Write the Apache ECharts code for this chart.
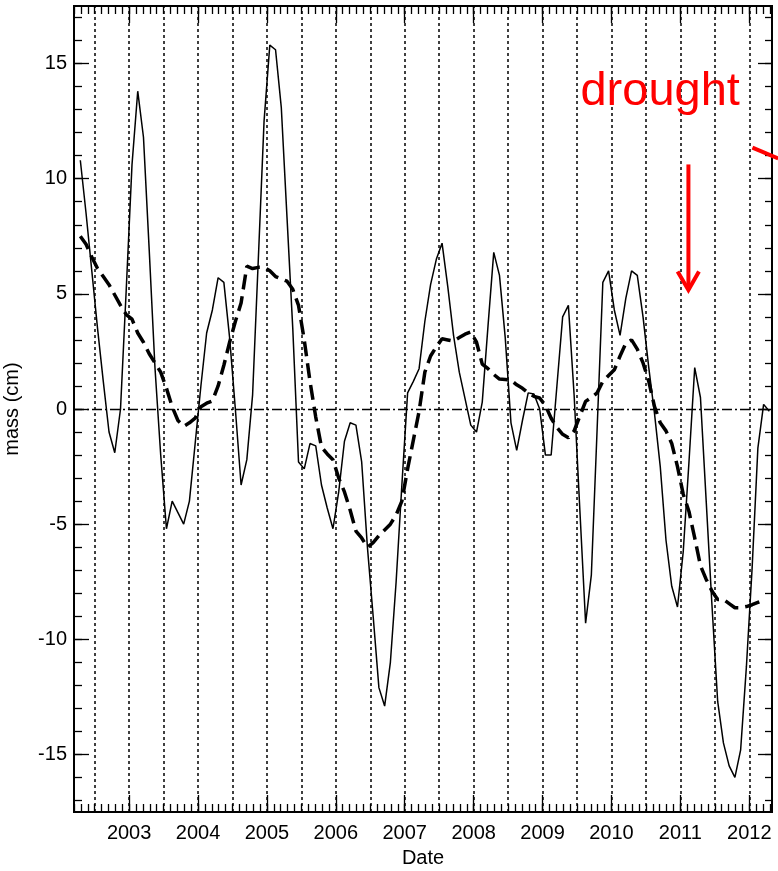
<!DOCTYPE html>
<html>
<head>
<meta charset="utf-8">
<script src="https://cdn.jsdelivr.net/npm/echarts@6/dist/echarts.min.js"></script>
<style>
  html, body { margin: 0; padding: 0; background: #fff; }
  #chart { width: 778px; height: 871px; }
</style>
</head>
<body>
<div id="chart"></div>
<script>
// Monthly series start (year, month); one value per month from here on
const firstYear = 2002;
const firstMonth = 4;

// Monthly water-mass anomaly (cm)
const monthlyMass = [
  10.8, 8.5, 6.0, 3.5, 1.2, -1.0, -1.9, 0.0, 5.2,
  10.6, 13.8, 11.8, 6.9, 1.8, -2.0, -5.2, -4.0, -4.5, -5.0, -4.0, -1.5,
  1.0, 3.3, 4.3, 5.7, 5.5, 3.1, 0.0, -3.3, -2.2, 0.6, 6.5, 12.5,
  15.8, 15.6, 13.1, 8.3, 3.5, -2.3, -2.6, -1.5, -1.6, -3.3, -4.3, -5.2,
  -3.6, -1.4, -0.6, -0.7, -2.3, -6.0, -9.0, -12.1, -12.9, -11.0, -7.5, -3.3,
  0.7, 1.2, 1.75, 3.8, 5.4, 6.5, 7.2, 5.3, 3.2, 1.6, 0.45, -0.7,
  -1.0, 0.3, 3.6, 6.8, 5.8, 3.1, -0.6, -1.8, -0.5, 0.7, 0.65, 0.0,
  -2.0, -2.0, 1.0, 4.0, 4.5, 0.6, -4.4, -9.3, -7.2, -0.9, 5.5, 6.0,
  4.3, 3.2, 4.8, 6.0, 5.8, 4.0, 1.8, -0.2, -2.5, -5.7, -7.7, -8.6,
  -6.2, -2.3, 1.8, 0.5, -4.0, -8.5, -12.7, -14.5, -15.5, -16.0, -14.8, -11.2,
  -6.9, -1.7, 0.2, -0.1
];

// Smoothed (de-seasoned) mass anomaly (cm)
const smoothedMass = [
  7.5, 7.15, 6.6, 6.1, 5.75, 5.4, 4.95, 4.5, 4.1,
  3.9, 3.3, 2.9, 2.4, 2.0, 1.6, 0.9, 0.1, -0.5, -0.75, -0.6, -0.4,
  0.1, 0.25, 0.35, 1.0, 1.9, 2.9, 3.8, 4.6, 6.2, 6.1, 6.15, 6.15,
  6.0, 5.75, 5.65, 5.55, 5.2, 4.5, 3.0, 1.2, -0.35, -1.65, -1.95, -2.2,
  -3.0, -3.6, -4.4, -5.3, -5.6, -6.0, -5.8, -5.5, -5.25, -5.0, -4.6, -4.0,
  -2.6, -1.35, -0.1, 1.6, 2.3, 2.7, 3.05, 3.0, 2.95, 3.1, 3.25, 3.35,
  2.9, 1.95, 1.75, 1.5, 1.3, 1.28, 1.25, 1.05, 0.9, 0.7, 0.55, 0.48,
  0.15, -0.4, -0.8, -1.1, -1.25, -0.95, -0.3, 0.33, 0.5, 0.7, 1.2, 1.45,
  1.7, 2.3, 2.85, 3.0, 2.6, 2.0, 1.2, 0.1, -0.6, -0.95, -1.5, -2.5,
  -3.7, -4.45, -5.6, -6.8, -7.4, -7.9, -8.27, -8.27, -8.45, -8.63, -8.63, -8.58,
  -8.5, -8.4, -8.3
];

// Axis ticks and labels
const yearTicks = [2003, 2004, 2005, 2006, 2007, 2008, 2009, 2010, 2011, 2012];
const halfYearLines = [2002.5, 2003, 2003.5, 2004, 2004.5, 2005, 2005.5, 2006, 2006.5,
  2007, 2007.5, 2008, 2008.5, 2009, 2009.5, 2010, 2010.5, 2011, 2011.5, 2012];
const massTicks = [-15, -10, -5, 0, 5, 10, 15];

const xMin = 2002.2, xMax = 2012.33;
const yMin = -17.5, yMax = 17.5;

// Annotation text and anchor positions (data units)
const annotationText = 'drought';
const annotationAnchor = [2009.55, 13.06];
const arrowTop = [2011.117, 10.62];
const arrowTip = [2011.117, 5.17];
const arrowWingLeft = [2010.96, 5.97];
const arrowWingRight = [2011.27, 5.97];
const sideArrowStart = [2012.046, 11.35];
const sideArrowEnd = [2012.42, 10.88];

function decimalYear(i) {
  const m = firstMonth - 1 + i;
  return firstYear + Math.floor(m / 12) + ((m % 12) + 0.5) / 12;
}
const solidData = monthlyMass.map((v, i) => [decimalYear(i), v]);
const dashedData = smoothedMass.map((v, i) => [decimalYear(i), v]);

const minorYearTicks = [];
for (let k = Math.ceil(xMin * 10); k <= Math.floor(xMax * 10); k++) minorYearTicks.push(k / 10);
const minorMassTicks = [];
for (let k = Math.ceil(yMin); k <= Math.floor(yMax); k++) minorMassTicks.push(k);

const FONT = '"Liberation Sans", Arial, Helvetica, sans-serif';
const black = '#000000';

function xAxisDef(position, ticks, len, withLabel) {
  const ax = {
    type: 'value', position: position, min: xMin, max: xMax,
    axisLine: { show: false, onZero: false },
    splitLine: { show: false },
    axisTick: { show: true, inside: true, length: len, customValues: ticks,
      lineStyle: { color: black, width: 1.3 } },
    axisLabel: { show: false }
  };
  if (withLabel) {
    ax.axisLabel = { show: true, customValues: yearTicks, formatter: v => String(Math.round(v)),
      margin: 11, color: black, fontSize: 20, fontFamily: FONT };
    ax.name = 'Date';
    ax.nameLocation = 'middle';
    ax.nameGap = 36;
    ax.nameTextStyle = { color: black, fontSize: 20, fontFamily: FONT };
  }
  return ax;
}
function yAxisDef(position, ticks, len, withLabel) {
  const ax = {
    type: 'value', position: position, min: yMin, max: yMax,
    axisLine: { show: false, onZero: false },
    splitLine: { show: false },
    axisTick: { show: true, inside: true, length: len, customValues: ticks,
      lineStyle: { color: black, width: 1.3 } },
    axisLabel: { show: false }
  };
  if (withLabel) {
    ax.axisLabel = { show: true, customValues: massTicks, formatter: v => String(v),
      margin: 7, color: black, fontSize: 20, fontFamily: FONT };
    ax.name = 'mass (cm)';
    ax.nameLocation = 'middle';
    ax.nameRotate = 90;
    ax.nameGap = 52;
    ax.nameTextStyle = { color: black, fontSize: 20, fontFamily: FONT };
  }
  return ax;
}

const chart = echarts.init(document.getElementById('chart'), null, { renderer: 'canvas' });

chart.setOption({
  animation: false,
  backgroundColor: '#ffffff',
  grid: {
    left: 74, right: 6, top: 6, bottom: 59,
    show: true, borderColor: black, borderWidth: 2, backgroundColor: 'transparent',
    containLabel: false, outerBoundsMode: 'none'
  },
  xAxis: [
    xAxisDef('bottom', yearTicks, 17, true),
    xAxisDef('bottom', minorYearTicks, 8, false),
    xAxisDef('top', yearTicks, 17, false),
    xAxisDef('top', minorYearTicks, 8, false)
  ],
  yAxis: [
    yAxisDef('left', massTicks, 15, true),
    yAxisDef('left', minorMassTicks, 8, false),
    yAxisDef('right', massTicks, 14, false),
    yAxisDef('right', minorMassTicks, 7, false)
  ],
  series: [
    {
      name: 'reference lines', type: 'line', data: [], z: 1, silent: true,
      markLine: {
        silent: true, symbol: ['none', 'none'], label: { show: false },
        animation: false,
        data: halfYearLines.map(x => ({ xAxis: x, lineStyle: { color: black, width: 1.5, type: [3, 3] } }))
          .concat([{ yAxis: 0, lineStyle: { color: black, width: 1.3, type: [10, 3, 2, 3] } }])
      }
    },
    {
      name: 'monthly', type: 'line', data: solidData, z: 3,
      showSymbol: false, symbol: 'none',
      lineStyle: { color: black, width: 1.5 }
    },
    {
      name: 'smoothed', type: 'line', data: dashedData, z: 4,
      showSymbol: false, symbol: 'none',
      lineStyle: { color: black, width: 3.5, type: [15, 7] }
    }
  ]
});

// Red drought annotation, placed from data coordinates
function px(p) { return chart.convertToPixel({ gridIndex: 0 }, p); }
const red = '#ff0000';
const tA = px(annotationAnchor);
const aTop = px(arrowTop), aTip = px(arrowTip), aL = px(arrowWingLeft), aR = px(arrowWingRight);
const sS = px(sideArrowStart), sE = px(sideArrowEnd);
chart.setOption({
  graphic: [
    { type: 'text', z: 10, style: { text: annotationText, x: tA[0], y: tA[1] - 16.3,
      fill: red, font: '47px ' + FONT, textAlign: 'left', textVerticalAlign: 'middle' } },
    { type: 'polyline', z: 10, shape: { points: [aTop, aTip] },
      style: { stroke: red, lineWidth: 4, fill: null } },
    { type: 'polyline', z: 10, shape: { points: [aL, aTip, aR] },
      style: { stroke: red, lineWidth: 4, fill: null } },
    { type: 'polyline', z: 10, shape: { points: [sS, sE] },
      style: { stroke: red, lineWidth: 4, fill: null } }
  ]
});
</script>
</body>
</html>
